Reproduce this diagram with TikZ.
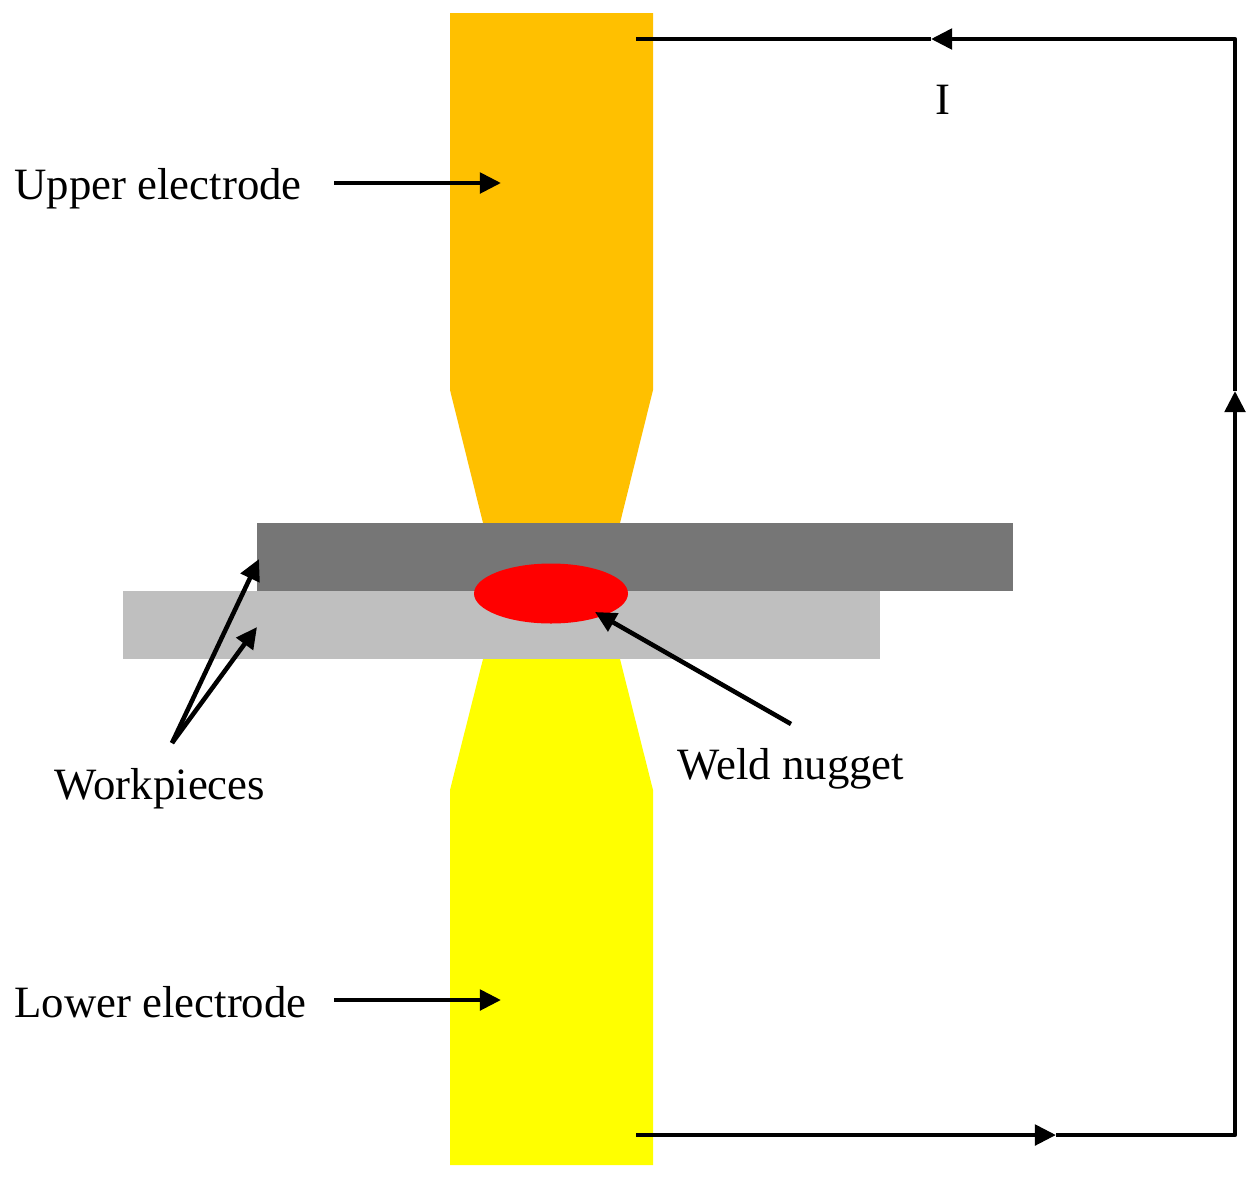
\documentclass[tikz,border=0pt]{standalone}
\usepackage{fontspec}
\setmainfont{Liberation Serif}
\usetikzlibrary{arrows.meta,shapes.geometric}
\definecolor{upperel}{RGB}{255,192,0}
\definecolor{lowerel}{RGB}{255,255,0}
\definecolor{topplate}{RGB}{118,118,118}
\definecolor{botplate}{RGB}{191,191,191}
\begin{document}
\begin{tikzpicture}[
  x=0.02cm, y=-0.02cm,
  lbl/.style={inner sep=0pt, font=\fontsize{25.5}{30}\selectfont},
  line/.style={draw=black, line width=2.6pt, line join=round},
  arr/.style={line, -{Triangle[length=12pt,width=11.5pt]}}
]
\useasboundingbox (0,0) rectangle (1250,1184);
% electrodes
\fill[upperel] (450,13) -- (653,13) -- (653,390) -- (620,523) -- (483,523) -- (450,390) -- cycle;
\fill[lowerel] (483,659) -- (620,659) -- (653,790) -- (653,1165) -- (450,1165) -- (450,790) -- cycle;
% plates
\fill[botplate] (123,591) rectangle (880,659);
\fill[topplate] (257,523) rectangle (1013,591);
\node[ellipse, fill=red, minimum width=3.08cm, minimum height=1.2cm, inner sep=0pt] (nugget) at (551,593.5) {};
% labels
\node[lbl, anchor=west] (upper) at (14,189) {Upper electrode};
\node[lbl, anchor=west] (lower) at (14,1002) {Lower electrode};
\node[lbl] (work) at (160,789) {Workpieces};
\node[lbl] (weld) at (791,769) {Weld nugget};
\node[lbl] (cur) at (943,100) {I};
% free ends
\coordinate (upin) at (501,183);
\coordinate (lowin) at (501,1000);
\coordinate (upstart) at (334,183);
\coordinate (lowstart) at (334,1000);
\coordinate (workstart) at (172,743);
\coordinate (worktop) at (259,559);
\coordinate (workbot) at (257,627);
\coordinate (weldstart) at (791,724);
\coordinate (weldend) at (595,612);
\coordinate (tl) at (636,39);
\coordinate (tr) at (1235,39);
\coordinate (bl) at (636,1135);
\coordinate (br) at (1235,1135);
\coordinate (tmid) at (931,39);
\coordinate (rmid) at (1235,391);
\coordinate (bmid) at (1056,1135);
% arrows
\draw[arr] (upstart) -- (upin);
\draw[arr] (lowstart) -- (lowin);
\draw[arr] (workstart) -- (worktop);
\draw[arr] (workstart) -- (workbot);
\draw[arr] (weldstart) -- (weldend);
\draw[arr] (bl) -- (bmid);
\draw[arr] (bmid) -- (br) -- (rmid);
\draw[arr] (rmid) -- (tr) -- (tmid);
\draw[line] (tmid) -- (tl);
\end{tikzpicture}
\end{document}
